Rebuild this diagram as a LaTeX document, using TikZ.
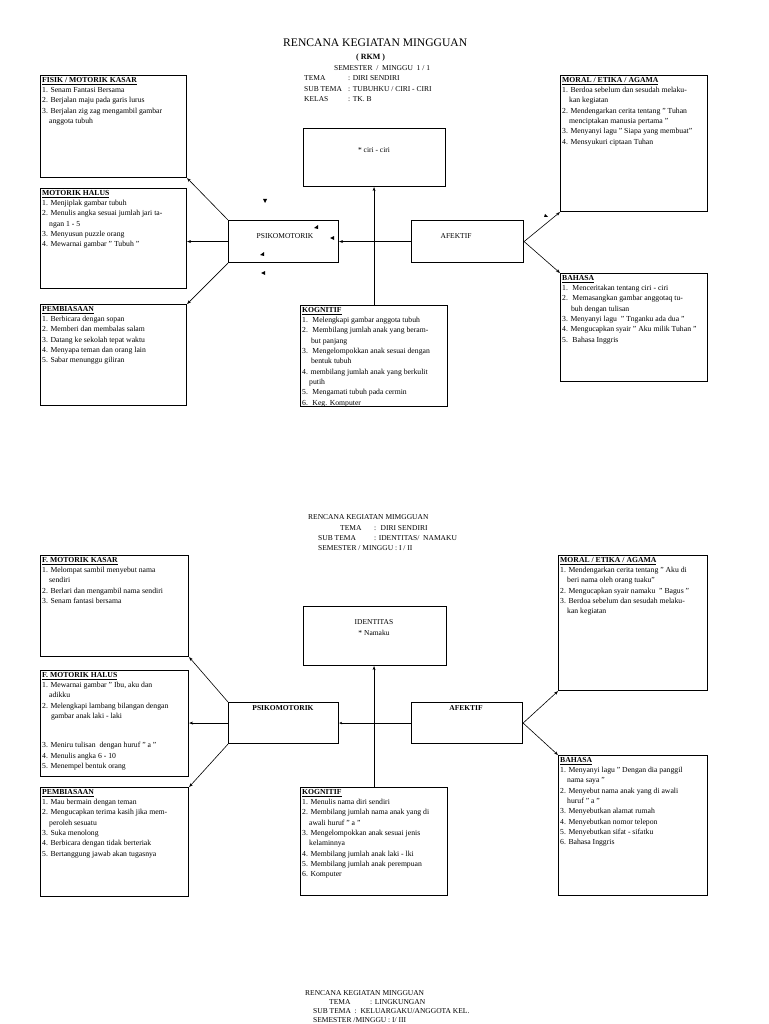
\documentclass[tikz,border=0pt]{standalone}
\usepackage{fontspec}
\setmainfont{Liberation Serif}
\usetikzlibrary{arrows.meta}

\tikzset{
  kotak/.style = {draw, line width=1.1pt, anchor=north west, inner sep=0pt},
  isi/.style = {anchor=north west, inner sep=2pt, align=left, font=\fontsize{7.7}{10.3}\selectfont},
  panah/.style = {line width=0.6pt, -{Stealth[length=4pt,width=3pt]}},
  teks/.style = {anchor=base west, inner sep=0pt, font=\fontsize{7.5}{9}\selectfont},
}
\newcommand{\judulkotak}[1]{\underline{\textbf{#1}}}
\newcommand{\lanjut}{\hspace*{7pt}}

\begin{document}
\begin{tikzpicture}[x=1pt, y=-1pt]
  \useasboundingbox (0,0) rectangle (768,1024);

  % RKM minggu 1
  \node[teks, font=\fontsize{11.6}{13}\selectfont] (judul1) at (283,47) {RENCANA KEGIATAN MINGGUAN};
  \node[teks, font=\fontsize{8}{9}\bfseries] (rkm1) at (356,60) {( RKM )};
  \node[teks] (smt1) at (334,71) {SEMESTER \ / \ MINGGU \ 1 / 1};
  \node[teks] (tema1) at (304,81) {TEMA};
  \node[teks] (tema1b) at (348,81) {: DIRI SENDIRI};
  \node[teks] (sub1) at (304,92) {SUB TEMA};
  \node[teks] (sub1b) at (348,92) {: TUBUHKU / CIRI - CIRI};
  \node[teks] (kls1) at (304,102) {KELAS};
  \node[teks] (kls1b) at (348,102) {: TK. B};

  \node[kotak, minimum width=146pt, minimum height=102pt] (kasar1) at (40,75) {};
  \node[isi] at (kasar1.north west) {\judulkotak{FISIK / MOTORIK KASAR}\\
    1. Senam Fantasi Bersama\\
    2. Berjalan maju pada garis lurus\\
    3. Berjalan zig zag mengambil gambar\\
    \lanjut anggota tubuh};

  \node[kotak, minimum width=146pt, minimum height=100pt] (halus1) at (40,188) {};
  \node[isi] at (halus1.north west) {\judulkotak{MOTORIK HALUS}\\
    1. Menjiplak gambar tubuh\\
    2. Menulis angka sesuai jumlah jari ta-\\
    \lanjut ngan 1 - 5\\
    3. Menyusun puzzle orang\\
    4. Mewarnai gambar " Tubuh "};

  \node[kotak, minimum width=146pt, minimum height=101pt] (biasa1) at (40,304) {};
  \node[isi] at (biasa1.north west) {\judulkotak{PEMBIASAAN}\\
    1. Berbicara dengan sopan\\
    2. Memberi dan membalas salam\\
    3. Datang ke sekolah tepat waktu\\
    4. Menyapa teman dan orang lain\\
    5. Sabar menunggu giliran};

  \node[kotak, minimum width=142pt, minimum height=58pt] (ciri1) at (303,128) {};
  \node[teks, anchor=base] at (374,153) {* ciri - ciri};

  \node[kotak, minimum width=110pt, minimum height=42pt] (psiko1) at (228,220) {};
  \node[teks, anchor=base] at (285,239) {PSIKOMOTORIK};

  \node[kotak, minimum width=112pt, minimum height=42pt] (afek1) at (411,220) {};
  \node[teks, anchor=base] at (456,239) {AFEKTIF};

  \node[kotak, minimum width=147pt, minimum height=101pt] (kog1) at (300,305) {};
  \node[isi] at (kog1.north west) {\judulkotak{KOGNITIF}\\
    1. \ Melengkapi gambar anggota tubuh\\
    2. \ Membilang jumlah anak yang beram-\\
    \lanjut\ but panjang\\
    3. \ Mengelompokkan anak sesuai dengan\\
    \lanjut\ bentuk tubuh\\
    4. membilang jumlah anak yang berkulit\\
    \lanjut putih\\
    5. \ Mengamati tubuh pada cermin\\
    6. \ Keg. Komputer};

  \node[kotak, minimum width=147pt, minimum height=136pt] (moral1) at (560,75) {};
  \node[isi] at (moral1.north west) {\judulkotak{MORAL / ETIKA / AGAMA}\\
    1. Berdoa sebelum dan sesudah melaku-\\
    \lanjut kan kegiatan\\
    2. Mendengarkan cerita tentang " Tuhan\\
    \lanjut menciptakan manusia pertama "\\
    3. Menyanyi lagu " Siapa yang membuat"\\
    4. Mensyukuri ciptaan Tuhan};

  \node[kotak, minimum width=147pt, minimum height=108pt] (bahasa1) at (560,273) {};
  \node[isi] at (bahasa1.north west) {\judulkotak{BAHASA}\\
    1. \ Menceritakan tentang ciri - ciri\\
    2. \ Memasangkan gambar anggotaq tu-\\
    \lanjut\ buh dengan tulisan\\
    3. Menyanyi lagu \ " Tnganku ada dua "\\
    4. Mengucapkan syair " Aku milik Tuhan "\\
    5. \ Bahasa Inggris};

  \draw[panah] (psiko1.north west) -- (kasar1.south east);
  \draw[panah] (psiko1.west) -- (psiko1.west -| halus1.east);
  \draw[panah] (psiko1.south west) -- (biasa1.north east);
  \draw[panah, {Stealth[length=4pt,width=3pt]}-] (psiko1.east) -- (afek1.west);
  \draw[panah] (kog1.north) -- (kog1.north |- ciri1.south);
  \draw[panah] (afek1.east) -- (moral1.south west);
  \draw[panah] (afek1.east) -- (bahasa1.north west);

  % sisa mata panah
  \fill (263,199) -- ++(4,0) -- ++(-2,4) -- cycle;
  \fill (318,225) -- ++(0,4) -- ++(-4,-1) -- cycle;
  \fill (334,236) -- ++(0,4) -- ++(-4,-2) -- cycle;
  \fill (264,252) -- ++(0,4) -- ++(-4,-1) -- cycle;
  \fill (265,271) -- ++(0,4) -- ++(-4,-2) -- cycle;
  \fill (545,214) -- ++(3,3) -- ++(-4,0) -- cycle;

  % RKM minggu 2
  \node[teks] (judul2) at (308,519) {RENCANA KEGIATAN MIMGGUAN};
  \node[teks] (tema2) at (340,530) {TEMA};
  \node[teks] (tema2b) at (374,530) {: \ DIRI SENDIRI};
  \node[teks] (sub2) at (318,540) {SUB TEMA};
  \node[teks] (sub2b) at (374,540) {: IDENTITAS/ \ NAMAKU};
  \node[teks] (smt2) at (318,550) {SEMESTER / MINGGU : I / II};

  \node[kotak, minimum width=148pt, minimum height=101pt] (kasar2) at (40,555) {};
  \node[isi] at (kasar2.north west) {\judulkotak{F. MOTORIK KASAR}\\
    1. Melompat sambil menyebut nama\\
    \lanjut sendiri\\
    2. Berlari dan mengambil nama sendiri\\
    3. Senam fantasi bersama};

  \node[kotak, minimum width=148pt, minimum height=106pt] (halus2) at (40,670) {};
  \node[isi] at (halus2.north west) {\judulkotak{F. MOTORIK HALUS}\\
    1. Mewarnai gambar " Ibu, aku dan\\
    \lanjut adikku\\
    2. Melengkapi lambang bilangan dengan\\
    \lanjut\ gambar anak laki - laki\\[19pt]
    3. Meniru tulisan \ dengan huruf " a "\\
    4. Menulis angka 6 - 10\\
    5. Menempel bentuk orang};

  \node[kotak, minimum width=148pt, minimum height=109pt] (biasa2) at (40,787) {};
  \node[isi] at (biasa2.north west) {\judulkotak{PEMBIASAAN}\\
    1. Mau bermain dengan teman\\
    2. Mengucapkan terima kasih jika mem-\\
    \lanjut peroleh sesuatu\\
    3. Suka menolong\\
    4. Berbicara dengan tidak berteriak\\
    5. Bertanggung jawab akan tugasnya};

  \node[kotak, minimum width=143pt, minimum height=59pt] (ident2) at (303,606) {};
  \node[teks, anchor=base, align=center, font=\fontsize{7.5}{11}\selectfont] at (374,635) {IDENTITAS\\* Namaku};

  \node[kotak, minimum width=110pt, minimum height=41pt] (psiko2) at (228,702) {};
  \node[teks, anchor=base, font=\fontsize{7.5}{9}\bfseries] at (283,710) {PSIKOMOTORIK};

  \node[kotak, minimum width=111pt, minimum height=41pt] (afek2) at (411,702) {};
  \node[teks, anchor=base, font=\fontsize{7.5}{9}\bfseries] at (466,710) {AFEKTIF};

  \node[kotak, minimum width=147pt, minimum height=108pt] (kog2) at (300,787) {};
  \node[isi] at (kog2.north west) {\judulkotak{KOGNITIF}\\
    1. Menulis nama diri sendiri\\
    2. Membilang jumlah nama anak yang di\\
    \lanjut awali huruf " a "\\
    3. Mengelompokkan anak sesuai jenis\\
    \lanjut kelaminnya\\
    4. Membilang jumlah anak laki - lki\\
    5. Membilang jumlah anak perempuan\\
    6. Komputer};

  \node[kotak, minimum width=149pt, minimum height=135pt] (moral2) at (558,555) {};
  \node[isi] at (moral2.north west) {\judulkotak{MORAL / ETIKA / AGAMA}\\
    1. Mendengarkan cerita tentang " Aku di\\
    \lanjut beri nama oleh orang tuaku"\\
    2. Mengucapkan syair namaku \ " Bagus "\\
    3. Berdoa sebelum dan sesudah melaku-\\
    \lanjut kan kegiatan};

  \node[kotak, minimum width=149pt, minimum height=140pt] (bahasa2) at (558,755) {};
  \node[isi] at (bahasa2.north west) {\judulkotak{BAHASA}\\
    1. Menyanyi lagu " Dengan dia panggil\\
    \lanjut nama saya "\\
    2. Menyebut nama anak yang di awali\\
    \lanjut huruf " a "\\
    3. Menyebutkan alamat rumah\\
    4. Menyebutkan nomor telepon\\
    5. Menyebutkan sifat - sifatku\\
    6. Bahasa Inggris};

  \draw[panah] (psiko2.north west) -- (kasar2.south east);
  \draw[panah] (psiko2.west) -- (psiko2.west -| halus2.east);
  \draw[panah] (psiko2.south west) -- (biasa2.north east);
  \draw[panah, {Stealth[length=3pt,width=2.5pt]}-] (psiko2.east) -- (afek2.west);
  \draw[panah] (kog2.north) -- (kog2.north |- ident2.south);
  \draw[panah] (afek2.east) -- (moral2.south west);
  \draw[panah] (afek2.east) -- (bahasa2.north west);

  % RKM minggu 3
  \node[teks] (judul3) at (305,995) {RENCANA KEGIATAN MINGGUAN};
  \node[teks] (tema3) at (329,1004) {TEMA};
  \node[teks] (tema3b) at (370,1004) {: LINGKUNGAN};
  \node[teks] (sub3) at (313,1013) {SUB TEMA \ : \ KELUARGAKU/ANGGOTA KEL.};
  \node[teks] (smt3) at (313,1022) {SEMESTER /MINGGU : I/ III};
\end{tikzpicture}
\end{document}
